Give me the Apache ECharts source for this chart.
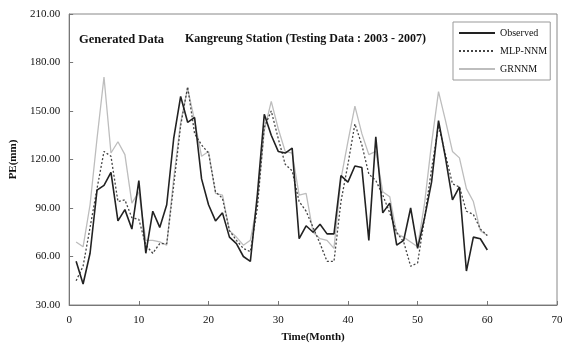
<!DOCTYPE html>
<html>
<head>
<meta charset="utf-8">
<script src="https://cdn.jsdelivr.net/npm/echarts@6/dist/echarts.min.js"></script>
<style>
  html, body { margin: 0; padding: 0; background: #fff; }
  #chart { width: 567px; height: 354px; }
</style>
</head>
<body>
<div id="chart"></div>
<script>
var yTicks = [30, 60, 90, 120, 150, 180, 210];
var xTicks = [0, 10, 20, 30, 40, 50, 60, 70];

// monthly PE values, months 1..60
var observed = [57, 43, 62, 101, 104, 112, 82, 89, 77, 107,
  62, 88, 78, 92, 133, 159, 143, 146, 108, 92,
  82, 87, 72, 68, 60, 57, 98, 148, 135, 125,
  124, 127, 71, 79, 75, 80, 74, 74, 110, 106,
  116, 115, 70, 134, 87, 93, 67, 70, 90, 65,
  84, 106, 144, 121, 95, 103, 51, 72, 71, 64];
var mlp = [45, 54, 78, 102, 125, 122, 94, 95, 84, 83,
  67, 62, 68, 68, 104, 141, 165, 136, 129, 124,
  100, 96, 76, 70, 65, 63, 90, 140, 150, 133,
  117, 113, 94, 88, 78, 68, 57, 57, 94, 117,
  142, 129, 111, 107, 98, 87, 75, 69, 54, 56,
  84, 114, 141, 123, 105, 103, 88, 86, 77, 73];
var grnn = [69, 66, 92, 133, 171, 124, 131, 123, 93, 100,
  70, 70, 69, 67, 108, 143, 164, 144, 122, 125,
  99, 98, 76, 72, 67, 70, 93, 138, 156, 139,
  125, 124, 98, 99, 75, 71, 70, 65, 108, 131,
  153, 136, 123, 125, 100, 97, 74, 72, 69, 66,
  93, 130, 162, 144, 125, 121, 102, 94, 76, 73];

function pairs(arr) {
  return arr.map(function (v, i) { return [i + 1, v]; });
}

var font = '"Liberation Serif", "Times New Roman", serif';

var myChart = echarts.init(document.getElementById('chart'));
var option = {
  animation: false,
  backgroundColor: '#fff',
  textStyle: { fontFamily: font },
  title: [
    {
      text: 'Generated Data',
      left: 74, top: 28,
      textStyle: { fontFamily: font, fontSize: 12.5, fontWeight: 'bold', color: '#111' }
    },
    {
      text: 'Kangreung Station (Testing Data : 2003 - 2007)',
      left: 180, top: 28,
      textStyle: { fontFamily: font, fontSize: 12, fontWeight: 'bold', color: '#111' }
    }
  ],
  legend: {
    orient: 'vertical',
    left: 453, top: 22,
    padding: [6, 3, 6, 5],
    itemGap: 8,
    itemWidth: 36,
    itemHeight: 10,
    borderColor: '#999',
    borderWidth: 1,
    itemStyle: { opacity: 0 },
    textStyle: { fontFamily: font, fontSize: 10, color: '#111' },
    data: ['Observed', 'MLP-NNM', 'GRNNM']
  },
  grid: {
    left: 65, right: 10, top: 14, bottom: 49,
    show: true, borderColor: '#888', borderWidth: 1
  },
  xAxis: {
    type: 'value',
    min: xTicks[0], max: xTicks[xTicks.length - 1], interval: 10,
    name: 'Time(Month)', nameLocation: 'middle', nameGap: 27,
    nameTextStyle: { fontFamily: font, fontSize: 11, fontWeight: 'bold', color: '#111' },
    axisLine: { lineStyle: { color: '#777' } },
    axisTick: { inside: true, length: 4, lineStyle: { color: '#777' } },
    axisLabel: { fontFamily: font, fontSize: 11, color: '#111', margin: 10 },
    splitLine: { show: false }
  },
  yAxis: {
    type: 'value',
    min: yTicks[0], max: yTicks[yTicks.length - 1], interval: 30,
    name: 'PE(mm)', nameLocation: 'middle', nameGap: 42, nameRotate: 90,
    nameTextStyle: { fontFamily: font, fontSize: 11, fontWeight: 'bold', color: '#111' },
    axisLine: { show: true, lineStyle: { color: '#777' } },
    axisTick: { show: true, inside: true, length: 4, lineStyle: { color: '#777' } },
    axisLabel: {
      fontFamily: font, fontSize: 11, color: '#111', margin: 9,
      formatter: function (v) { return v.toFixed(2); }
    },
    splitLine: { show: false }
  },
  series: [
    {
      name: 'Observed',
      type: 'line',
      symbol: 'none',
      data: pairs(observed),
      lineStyle: { color: '#222', width: 1.6 },
      itemStyle: { color: '#222' },
      z: 3
    },
    {
      name: 'MLP-NNM',
      type: 'line',
      symbol: 'none',
      data: pairs(mlp),
      lineStyle: { color: '#444', width: 1.3, type: [2, 2] },
      itemStyle: { color: '#444' },
      z: 2
    },
    {
      name: 'GRNNM',
      type: 'line',
      symbol: 'none',
      data: pairs(grnn),
      lineStyle: { color: '#bdbdbd', width: 1.3 },
      itemStyle: { color: '#bdbdbd' },
      z: 1
    }
  ]
};
myChart.setOption(option);
</script>
</body>
</html>
